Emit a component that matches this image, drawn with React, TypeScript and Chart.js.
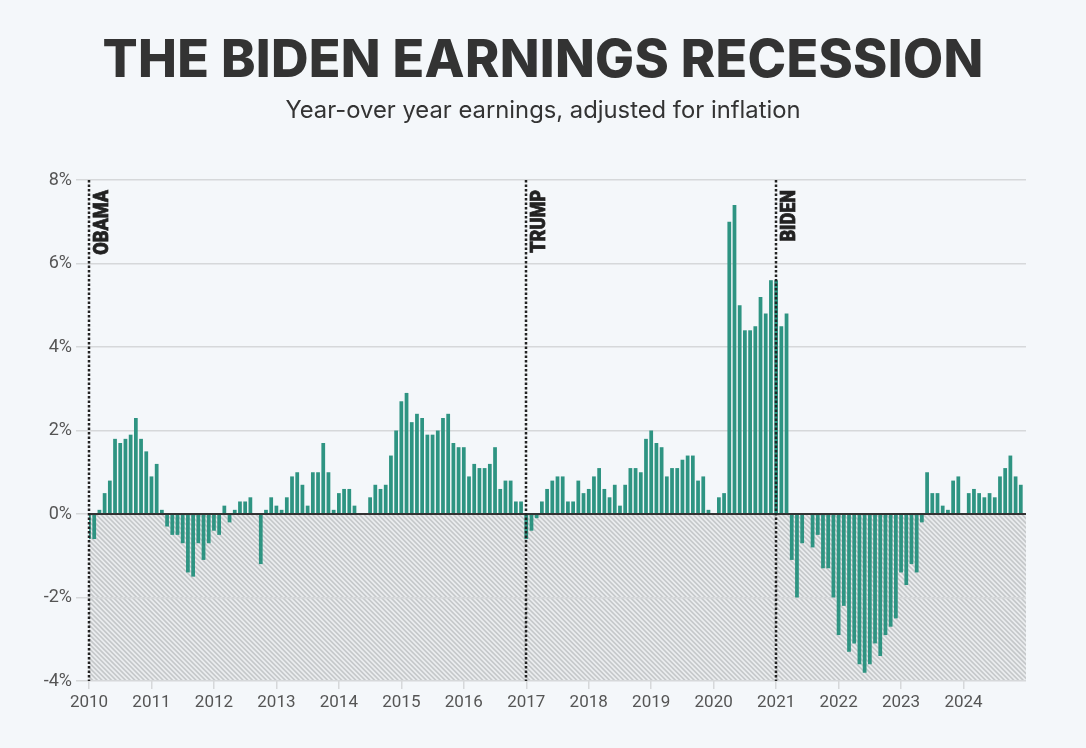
import { useEffect, useRef } from "react";
import { Chart, registerables, type Plugin } from "chart.js";

Chart.register(...registerables);

// Ganhos reais ano contra ano (%), um valor por mês, jan..dez
const FIRST_YEAR = 2010;
const y2010 = [-0.6, -0.6, 0.1, 0.5, 0.8, 1.8, 1.7, 1.8, 1.9, 2.3, 1.8, 1.5];
const y2011 = [0.9, 1.2, 0.1, -0.3, -0.5, -0.5, -0.7, -1.4, -1.5, -0.7, -1.1, -0.7];
const y2012 = [-0.4, -0.5, 0.2, -0.2, 0.1, 0.3, 0.3, 0.4, 0.0, -1.2, 0.1, 0.4];
const y2013 = [0.2, 0.1, 0.4, 0.9, 1.0, 0.7, 0.2, 1.0, 1.0, 1.7, 1.0, 0.1];
const y2014 = [0.5, 0.6, 0.6, 0.2, 0.0, 0.0, 0.4, 0.7, 0.6, 0.7, 1.4, 2.0];
const y2015 = [2.7, 2.9, 2.2, 2.4, 2.3, 1.9, 1.9, 2.0, 2.3, 2.4, 1.7, 1.6];
const y2016 = [1.6, 0.9, 1.2, 1.1, 1.1, 1.2, 1.6, 0.6, 0.8, 0.8, 0.3, 0.3];
const y2017 = [-0.6, -0.4, -0.1, 0.3, 0.6, 0.8, 0.9, 0.9, 0.3, 0.3, 0.8, 0.5];
const y2018 = [0.6, 0.9, 1.1, 0.6, 0.4, 0.7, 0.2, 0.7, 1.1, 1.1, 1.0, 1.8];
const y2019 = [2.0, 1.7, 1.6, 0.9, 1.1, 1.1, 1.3, 1.4, 1.4, 0.8, 0.9, 0.1];
const y2020 = [0.0, 0.4, 0.5, 7.0, 7.4, 5.0, 4.4, 4.4, 4.5, 5.2, 4.8, 5.6];
const y2021 = [5.6, 4.5, 4.8, -1.1, -2.0, -0.7, 0.0, -0.8, -0.5, -1.3, -1.3, -2.0];
const y2022 = [-2.9, -2.2, -3.3, -3.1, -3.6, -3.8, -3.6, -3.1, -3.4, -2.9, -2.7, -2.5];
const y2023 = [-1.4, -1.7, -1.2, -1.4, -0.2, 1.0, 0.5, 0.5, 0.2, 0.1, 0.8, 0.9];
const y2024 = [0.0, 0.5, 0.6, 0.5, 0.4, 0.5, 0.4, 0.9, 1.1, 1.4, 0.9, 0.7];

const earnings = [
  ...y2010, ...y2011, ...y2012, ...y2013, ...y2014,
  ...y2015, ...y2016, ...y2017, ...y2018, ...y2019,
  ...y2020, ...y2021, ...y2022, ...y2023, ...y2024,
];

// Início de cada mandato, em meses desde jan/2010
const termLabels = ["OBAMA", "TRUMP", "BIDEN"];
const termStarts = [0, 84, 132];

const Y_MIN = -4;
const Y_MAX = 8;
const Y_STEP = 2;

const BG = "#f4f7fa";
const BAR = "#2e9482";
const INK = "#333333";
const GRID = "#d6d8da";
const TICK_FONT = "Roboto, sans-serif";

// Área negativa hachurada, por baixo da grade
const hatchPlugin: Plugin = {
  id: "hatch",
  beforeDraw(chart) {
    const { ctx, chartArea: a } = chart;
    const y = chart.scales.y;
    const top = y.getPixelForValue(0);
    const bottom = y.getPixelForValue(Y_MIN);
    const h = bottom - top;
    ctx.save();
    ctx.beginPath();
    ctx.rect(a.left, top, a.right - a.left, h);
    ctx.clip();
    ctx.fillStyle = "#ebedef";
    ctx.fillRect(a.left, top, a.right - a.left, h);
    ctx.beginPath();
    for (let x = a.left - h - 5; x < a.right + 5; x += 4.7) {
      ctx.moveTo(x, top);
      ctx.lineTo(x + h, bottom);
    }
    ctx.strokeStyle = "#c5c8ca";
    ctx.lineWidth = 1.7;
    ctx.stroke();
    ctx.restore();
  },
};

// Linha do zero e marcos de mandato por cima das barras
const termsPlugin: Plugin = {
  id: "terms",
  afterDatasetsDraw(chart) {
    const { ctx, chartArea: a } = chart;
    const x = chart.scales.x;
    const y0 = chart.scales.y.getPixelForValue(0);
    ctx.save();
    ctx.strokeStyle = INK;
    ctx.lineWidth = 2;
    ctx.beginPath();
    ctx.moveTo(a.left, y0);
    ctx.lineTo(a.right, y0);
    ctx.stroke();

    termStarts.forEach((m, i) => {
      const px = Math.round(x.getPixelForValue(m));
      ctx.strokeStyle = "#222";
      ctx.lineWidth = 2.5;
      ctx.setLineDash([2.5, 2]);
      ctx.beginPath();
      ctx.moveTo(px, a.top);
      ctx.lineTo(px, a.bottom);
      ctx.stroke();
      ctx.setLineDash([]);

      // rótulo vertical, estreitado como a fonte condensada do original
      ctx.save();
      ctx.translate(px + 14, a.top + 10);
      ctx.rotate(-Math.PI / 2);
      ctx.scale(0.86, 1);
      ctx.font = "900 21px Roboto, sans-serif";
      ctx.fillStyle = "#222";
      ctx.strokeStyle = "#222";
      ctx.lineWidth = 0.8;
      ctx.textAlign = "right";
      ctx.textBaseline = "middle";
      ctx.fillText(termLabels[i], 0, 0);
      ctx.strokeText(termLabels[i], 0, 0);
      ctx.restore();
    });
    ctx.restore();
  },
};

function EarningsChart() {
  const canvasRef = useRef<HTMLCanvasElement>(null);

  useEffect(() => {
    const canvas = canvasRef.current;
    if (!canvas) return;
    const chart = new Chart(canvas, {
      type: "bar",
      data: {
        datasets: [
          {
            data: earnings.map((v, i) => ({ x: i, y: v })),
            backgroundColor: BAR,
            barPercentage: 0.72,
            categoryPercentage: 1,
          },
        ],
      },
      options: {
        responsive: true,
        maintainAspectRatio: false,
        animation: false,
        layout: { padding: { top: 180, right: 60, left: 0, bottom: 0 } },
        plugins: { legend: { display: false }, tooltip: { enabled: false } },
        scales: {
          x: {
            type: "linear",
            min: 0,
            max: earnings.length,
            offset: false,
            border: { display: false },
            grid: {
              offset: false,
              drawOnChartArea: false,
              tickLength: 8,
              lineWidth: 1.5,
              color: (c) => (c.tick && c.tick.value >= earnings.length ? "transparent" : GRID),
            },
            ticks: {
              stepSize: 12,
              padding: 4,
              color: "#555",
              font: { family: TICK_FONT, size: 17 },
              callback: (v) => (Number(v) < earnings.length ? String(FIRST_YEAR + Number(v) / 12) : ""),
            },
            afterFit: (s) => {
              s.height = 67;
            },
          },
          y: {
            min: Y_MIN,
            max: Y_MAX,
            border: { display: false },
            grid: { color: GRID, tickColor: GRID, lineWidth: 1.5, tickLength: 13 },
            ticks: {
              stepSize: Y_STEP,
              padding: 4,
              color: "#555",
              font: { family: TICK_FONT, size: 18 },
              callback: (v) => `${v}%`,
            },
            afterFit: (s) => {
              s.width = 89;
            },
          },
        },
      },
      plugins: [hatchPlugin, termsPlugin],
    });
    return () => chart.destroy();
  }, []);

  return <canvas ref={canvasRef}></canvas>;
}

export default function App() {
  return (
    <div style={{ position: "fixed", left: 0, top: 0, width: 1086, height: 748, background: BG, fontFamily: "Inter, sans-serif" }}>
      <div style={{ position: "absolute", left: 0, top: 0, width: 1086, height: 748 }}>
        <EarningsChart />
      </div>
      <div
        style={{
          position: "absolute", left: 0, right: 0, top: 28, textAlign: "center",
          fontSize: 52, fontWeight: 800, color: INK, lineHeight: "62px", letterSpacing: "0.3px",
        }}
      >
        THE BIDEN EARNINGS RECESSION
      </div>
      <div style={{ position: "absolute", left: 0, right: 0, top: 96, textAlign: "center", fontSize: 23.8, color: INK, lineHeight: "28px" }}>
        Year-over year earnings, adjusted for inflation
      </div>
    </div>
  );
}
